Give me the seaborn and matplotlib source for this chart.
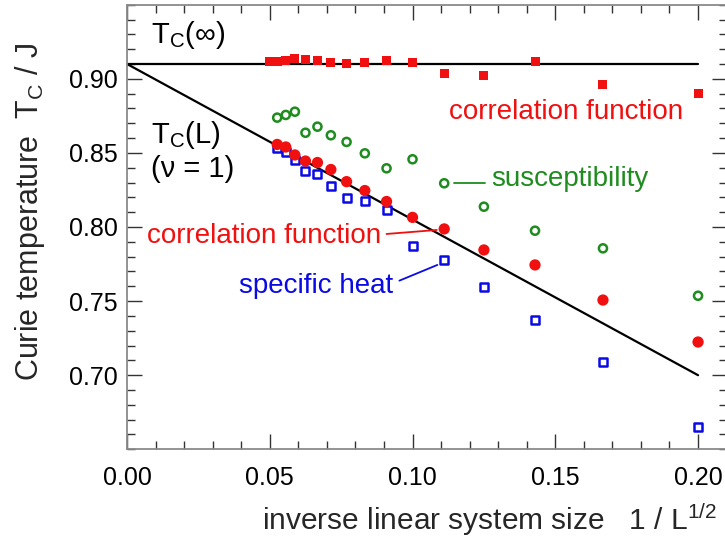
import matplotlib
matplotlib.use("Agg")
import matplotlib.pyplot as plt
import seaborn as sns
import pandas as pd
from matplotlib.ticker import MultipleLocator, FixedLocator, FixedFormatter

# ---------------- data ----------------
inv_L = [0.0500, 0.0526, 0.0556, 0.0588, 0.0625, 0.0667, 0.0714, 0.0769,
         0.0833, 0.0909, 0.1000, 0.1111, 0.1250, 0.1429, 0.1667, 0.2000]
inv_L_sub = [0.0526, 0.0556, 0.0588, 0.0625, 0.0667, 0.0714, 0.0769,
             0.0833, 0.0909, 0.1000, 0.1111, 0.1250, 0.1429, 0.1667, 0.2000]

tc_inf_corr = [0.9118, 0.9118, 0.9125, 0.9134, 0.9127, 0.9122, 0.9111, 0.9102,
               0.9111, 0.9125, 0.9113, 0.9037, 0.9024, 0.9120, 0.8960, 0.8902]
tc_susc = [0.8738, 0.8756, 0.8778, 0.8636, 0.8677, 0.8619, 0.8574, 0.8497,
           0.8396, 0.8457, 0.8295, 0.8137, 0.7975, 0.7856, 0.7536]
tc_corr = [0.8557, 0.8540, 0.8486, 0.8445, 0.8435, 0.8388, 0.8306, 0.8246,
           0.8172, 0.8065, 0.7987, 0.7845, 0.7744, 0.7507, 0.7224]
tc_heat = [0.8536, 0.8508, 0.8454, 0.8376, 0.8359, 0.8275, 0.8194, 0.8178,
           0.8115, 0.7874, 0.7777, 0.7595, 0.7372, 0.7091, 0.6652]

line_inf_x = [0.0, 0.2]
line_inf_y = [0.91, 0.91]
line_L_x = [0.0, 0.2]
line_L_y = [0.91, 0.70]

x_ticks = [0.00, 0.05, 0.10, 0.15, 0.20]
x_tick_labels = ["0.00", "0.05", "0.10", "0.15", "0.20"]
y_ticks = [0.70, 0.75, 0.80, 0.85, 0.90]
y_tick_labels = ["0.70", "0.75", "0.80", "0.85", "0.90"]

RED = "#f01010"
GREEN = "#1e8c1e"
BLUE = "#0a0ae6"

# ---------------- style ----------------
sns.set_style("ticks")
plt.rcParams["font.family"] = ["Liberation Sans", "DejaVu Sans"]
plt.rcParams["mathtext.fontset"] = "custom"
plt.rcParams["mathtext.rm"] = "Liberation Sans"
plt.rcParams["mathtext.it"] = "Liberation Sans:italic"
plt.rcParams["mathtext.bf"] = "Liberation Sans:bold"

fig = plt.figure(figsize=(7.25, 5.42), dpi=100)
ax = fig.add_axes([127 / 725, 92.7 / 542, 599.6 / 725, 444.6 / 542])

# lines
sns.lineplot(x=line_inf_x, y=line_inf_y, color="black", lw=1.6, ax=ax,
             estimator=None, sort=False)
sns.lineplot(x=line_L_x, y=line_L_y, color="black", lw=1.6, ax=ax,
             estimator=None, sort=False)

df_inf = pd.DataFrame({"x": inv_L, "y": tc_inf_corr})
df_susc = pd.DataFrame({"x": inv_L_sub, "y": tc_susc})
df_corr = pd.DataFrame({"x": inv_L_sub, "y": tc_corr})
df_heat = pd.DataFrame({"x": inv_L_sub, "y": tc_heat})

sns.scatterplot(data=df_inf, x="x", y="y", marker="s", s=42, color=RED,
                edgecolor="none", ax=ax, zorder=3)
sns.scatterplot(data=df_susc, x="x", y="y", marker="o", s=34,
                facecolor="none", edgecolor=GREEN, linewidth=1.8, ax=ax, zorder=3)
sns.scatterplot(data=df_heat, x="x", y="y", marker="s", s=30,
                facecolor="white", edgecolor=BLUE, linewidth=1.8, ax=ax, zorder=3)
sns.scatterplot(data=df_corr, x="x", y="y", marker="o", s=66, color=RED,
                edgecolor="none", ax=ax, zorder=4)

# connector lines for annotations
ax.plot([0.1145, 0.1254], [0.8298, 0.8298], color=GREEN, lw=1.3, zorder=2)
ax.plot([0.0909, 0.1085], [0.7953, 0.7980], color=RED, lw=1.3, zorder=2)
ax.plot([0.0954, 0.1087], [0.7638, 0.7744], color=BLUE, lw=1.3, zorder=2)

# annotation texts
fs_ann = 20
ax.text(0.1128, 0.8729, "correlation function", color=RED, fontsize=fs_ann,
        ha="left", va="baseline")
ax.text(0.1274, 0.8277, "susceptibility", color=GREEN, fontsize=fs_ann,
        ha="left", va="baseline")
ax.text(0.0071, 0.7890, "correlation function", color=RED, fontsize=fs_ann,
        ha="left", va="baseline")
ax.text(0.0393, 0.7557, "specific heat", color=BLUE, fontsize=fs_ann,
        ha="left", va="baseline")
ax.text(0.0083, 0.9240, r"T$_\mathregular{C}$(∞)", color="black",
        fontsize=21, ha="left", va="baseline")
ax.text(0.0083, 0.8565, r"T$_\mathregular{C}$(L)", color="black",
        fontsize=21, ha="left", va="baseline")
ax.text(0.0083, 0.8337, "(ν = 1)", color="black",
        fontsize=21, ha="left", va="baseline")

# axes limits & ticks
ax.set_xlim(0.0, 0.21)
ax.set_ylim(0.65, 0.95)
ax.xaxis.set_major_locator(FixedLocator(x_ticks))
ax.xaxis.set_major_formatter(FixedFormatter(x_tick_labels))
ax.yaxis.set_major_locator(FixedLocator(y_ticks))
ax.yaxis.set_major_formatter(FixedFormatter(y_tick_labels))
ax.xaxis.set_minor_locator(MultipleLocator(0.01))
ax.yaxis.set_minor_locator(MultipleLocator(0.01))
ax.tick_params(which="both", direction="in", top=True, right=True,
               color="#333333", width=1.0, labelsize=18, labelcolor="black")
ax.tick_params(which="major", length=11)
ax.tick_params(which="minor", length=5.5)
ax.tick_params(axis="x", pad=12)
ax.tick_params(axis="y", pad=6.5)
for sp in ax.spines.values():
    sp.set_visible(True)
    sp.set_color("#8a8a8a")
    sp.set_linewidth(1.3)

ax.set_xlabel("")
ax.set_ylabel("")

fig.text(30 / 725, 1 - 212 / 542, r"Curie temperature  T$_\mathregular{C}$ / J",
         rotation=90, ha="center", va="center", fontsize=22)
fig.text(490 / 725, 1 - 520 / 542,
         r"inverse linear system size   1 / L$^\mathregular{1/2}$",
         ha="center", va="center", fontsize=21.5)

fig.savefig("out.png", dpi=100)
